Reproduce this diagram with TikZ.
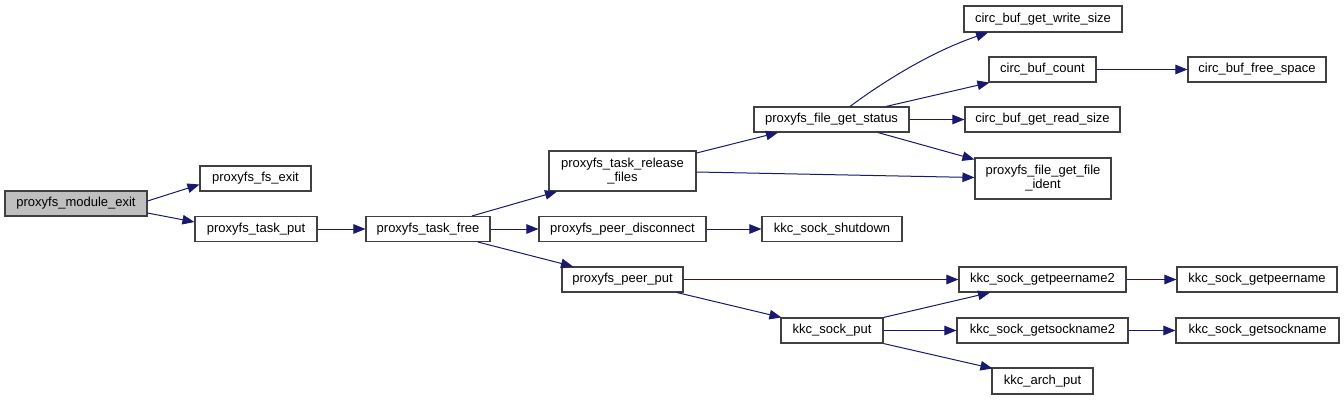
\documentclass[tikz,border=0pt]{standalone}
\usepackage{fontspec}
\setmainfont{Liberation Sans}
\usetikzlibrary{arrows.meta,calc}
\definecolor{edgecol}{HTML}{191970}
\definecolor{boxline}{HTML}{404040}
\definecolor{rootfill}{HTML}{BFBFBF}
\begin{document}
\begin{tikzpicture}[x=1pt,y=-1pt,
  box/.style={draw=boxline,line width=1.1pt,fill=white,rectangle,inner sep=0pt,minimum height=25pt,
    font=\fontsize{13}{14}\selectfont,align=center},
  tallbox/.style={box,minimum height=41pt},
  root/.style={box,fill=rootfill},
  edge/.style={draw=edgecol,line width=1pt,-{Triangle[length=12pt,width=9.5pt]}}]
\path[use as bounding box,fill=white] (0,0) rectangle (1344,400);

\node[root,minimum width=142pt] (me) at (76,203.5) {proxyfs\_module\_exit};
\node[box,minimum width=111pt] (fs) at (255.5,178.5) {proxyfs\_fs\_exit};
\node[box,minimum width=122pt] (tp) at (256,229) {proxyfs\_task\_put};
\node[box,minimum width=124pt] (tf) at (428,229) {proxyfs\_task\_free};
\node[tallbox,minimum width=147pt,minimum height=40pt] (rf) at (622.5,171) {proxyfs\_task\_release\\\_files};
\node[box,minimum width=167pt] (pd) at (622.5,229) {proxyfs\_peer\_disconnect};
\node[box,minimum width=121pt] (pp) at (622.5,279.5) {proxyfs\_peer\_put};
\node[box,minimum width=140pt] (ks) at (832,229) {kkc\_sock\_shutdown};
\node[box,minimum width=155pt] (gs) at (831.5,119.5) {proxyfs\_file\_get\_status};
\node[box,minimum width=102pt] (ksp) at (832,330.5) {kkc\_sock\_put};
\node[box,minimum width=158pt,minimum height=26pt] (ws) at (1043,19) {circ\_buf\_get\_write\_size};
\node[box,minimum width=107pt] (cc) at (1042.5,69.5) {circ\_buf\_count};
\node[box,minimum width=155pt] (rs) at (1042.5,119.5) {circ\_buf\_get\_read\_size};
\node[tallbox,minimum width=136pt] (fi) at (1043,178.5) {proxyfs\_file\_get\_file\\\_ident};
\node[box,minimum width=167pt] (gp2) at (1042.5,279.5) {kkc\_sock\_getpeername2};
\node[box,minimum width=171pt] (gsn2) at (1042.5,330.5) {kkc\_sock\_getsockname2};
\node[box,minimum width=101pt,minimum height=26pt] (ap) at (1042.5,381) {kkc\_arch\_put};
\node[box,minimum width=138pt] (fsp) at (1257,69.5) {circ\_buf\_free\_space};
\node[box,minimum width=160pt] (gp) at (1257,279.5) {kkc\_sock\_getpeername};
\node[box,minimum width=163pt] (gsn) at (1257.5,330.5) {kkc\_sock\_getsockname};

\draw[edge] ($(me.east)+(0,-2.5)$) -- ($(fs.west)+(0,6)$);
\draw[edge] ($(me.east)+(0,9.5)$) -- ($(tp.west)+(0,-7)$);
\draw[edge] (tp.east) -- (tf.west);
\draw[edge] ($(tf.north)+(44,0)$) -- ($(rf.south)+(-65.5,0)$);
\draw[edge] (tf.east) -- (pd.west);
\draw[edge] ($(tf.south)+(50,0)$) -- ($(pp.north)+(-49.5,0)$);
\draw[edge] ($(rf.east)+(0,-18)$) -- ($(gs.south)+(-53.5,0)$);
\draw[edge] ($(rf.east)+(0,1)$) -- ($(fi.west)+(0,-1)$);
\draw[edge] (pd.east) -- (ks.west);
\draw[edge] (pp.east) -- (gp2.west);
\draw[edge] ($(pp.south)+(54.5,0)$) -- ($(ksp.north west)+(1,0)$);
\draw[edge] ($(gs.north)+(18.5,0)$) .. controls (880,84) and (930,52) .. ($(ws.south)+(-55,0)$);
\draw[edge] ($(gs.north)+(54.5,0)$) -- ($(cc.south west)+(1,0)$);
\draw[edge] (gs.east) -- (rs.west);
\draw[edge] ($(gs.south)+(46.5,0)$) -- ($(fi.north west)+(0,2)$);
\draw[edge] (cc.east) -- (fsp.west);
\draw[edge] (ksp.north east) -- ($(gp2.south)+(-52.5,0)$);
\draw[edge] (ksp.east) -- (gsn2.west);
\draw[edge] (ksp.south east) -- ($(ap.north west)+(1,1)$);
\draw[edge] (gp2.east) -- (gp.west);
\draw[edge] (gsn2.east) -- (gsn.west);
\end{tikzpicture}
\end{document}
